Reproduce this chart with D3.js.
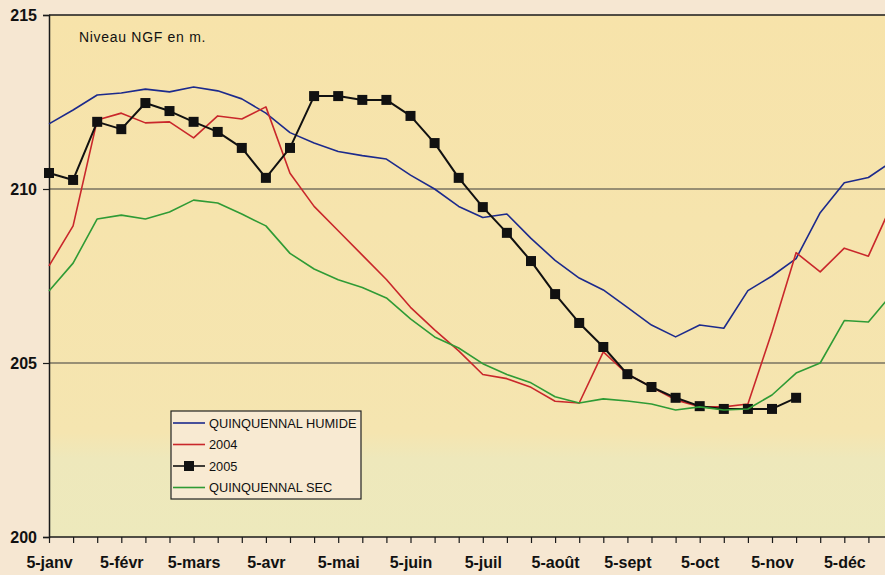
<!DOCTYPE html>
<html>
<head>
    <meta charset="utf-8">
    <title>Niveau NGF</title>
    <script src="https://d3js.org/d3.v7.min.js"></script>
    <style>
        body { margin: 0; background-color: #f6e7d2; }
        text { font-family: "Liberation Sans", Arial, sans-serif; }
    </style>
</head>
<body>
<svg width="885" height="575"></svg>
<script>
    // relevés tous les 10 jours (5, 15, 25 de chaque mois)
    var months = ["janv", "févr", "mars", "avr", "mai", "juin", "juil", "août", "sept", "oct", "nov", "déc"];
    var days = [5, 15, 25];
    var categories = [];
    months.forEach(function (m) {
        days.forEach(function (d) { categories.push(d + "-" + m); });
    });
    var tickLabels = months.map(function (m) { return "5-" + m; });
    var yTicks = [200, 205, 210, 215];

    var humide = [211.87, 212.27, 212.70, 212.76, 212.87, 212.79, 212.93, 212.82, 212.59, 212.18,
        211.62, 211.32, 211.08, 210.96, 210.86, 210.40, 210.00, 209.50, 209.18, 209.28,
        208.58, 207.95, 207.44, 207.10, 206.60, 206.09, 205.75, 206.09, 206.00, 207.08,
        207.50, 208.00, 209.32, 210.18, 210.33, 210.80];
    var y2004 = [207.79, 208.94, 211.98, 212.18, 211.90, 211.93, 211.47, 212.10, 212.01, 212.36,
        210.45, 209.50, 208.80, 208.10, 207.40, 206.60, 205.95, 205.35, 204.67, 204.55,
        204.30, 203.90, 203.85, 205.32, 204.68, 204.31, 203.94, 203.74, 203.74, 203.82,
        205.90, 208.17, 207.62, 208.30, 208.07, 209.60];
    var y2005 = [210.46, 210.26, 211.93, 211.72, 212.47, 212.24, 211.93, 211.64, 211.18, 210.32,
        211.18, 212.67, 212.67, 212.56, 212.56, 212.10, 211.32, 210.32, 209.48, 208.74,
        207.93, 206.98, 206.15, 205.46, 204.68, 204.31, 204.00, 203.76, 203.68, 203.68,
        203.68, 204.00];
    var sec = [207.07, 207.87, 209.14, 209.25, 209.14, 209.34, 209.68, 209.60, 209.28, 208.94,
        208.15, 207.70, 207.39, 207.17, 206.87, 206.27, 205.75, 205.43, 204.98, 204.67,
        204.43, 204.03, 203.85, 203.97, 203.91, 203.82, 203.65, 203.74, 203.65, 203.68,
        204.08, 204.71, 205.00, 206.22, 206.18, 207.00];

    var series = [
        {name: "QUINQUENNAL HUMIDE", values: humide, color: "#1c2a8c", marker: false},
        {name: "2004", values: y2004, color: "#c9272b", marker: false},
        {name: "2005", values: y2005, color: "#111111", marker: true},
        {name: "QUINQUENNAL SEC", values: sec, color: "#2f9b35", marker: false}
    ];

    var svg = d3.select("svg");
    var plotLeft = 49, plotTop = 15, plotBottom = 537, plotRight = 885, step = 24.1;

    var x = d3.scalePoint()
        .domain(categories)
        .range([plotLeft, plotLeft + step * (categories.length - 1)]);
    var y = d3.scaleLinear().domain([200, 215]).range([plotBottom, plotTop]);

    // fond du graphique
    var grad = svg.append("defs").append("linearGradient")
        .attr("id", "bg").attr("x1", 0).attr("y1", 0).attr("x2", 0).attr("y2", 1);
    grad.append("stop").attr("offset", "0").attr("stop-color", "#f7e3aa");
    grad.append("stop").attr("offset", "0.8").attr("stop-color", "#f5e5b0");
    grad.append("stop").attr("offset", "0.85").attr("stop-color", "#eee8bb");
    grad.append("stop").attr("offset", "1").attr("stop-color", "#ede9bc");

    svg.append("rect")
        .attr("x", plotLeft).attr("y", plotTop)
        .attr("width", plotRight - plotLeft).attr("height", plotBottom - plotTop)
        .attr("fill", "url(#bg)");

    // lignes horizontales
    svg.append("g")
        .selectAll("line")
        .data([205, 210])
        .enter().append("line")
        .attr("x1", plotLeft).attr("x2", plotRight)
        .attr("y1", function (d) { return y(d); })
        .attr("y2", function (d) { return y(d); })
        .attr("stroke", "#3a3a3a")
        .attr("stroke-width", 1.2);

    svg.append("line")
        .attr("x1", plotLeft).attr("x2", plotRight)
        .attr("y1", y(215)).attr("y2", y(215))
        .attr("stroke", "#1a1a1a").attr("stroke-width", 1.5);

    // axe Y
    var yAxis = svg.append("g")
        .attr("transform", "translate(" + plotLeft + ",0)")
        .call(d3.axisLeft(y).tickValues(yTicks).tickSize(6).tickFormat(d3.format("d")));
    yAxis.select(".domain").attr("stroke", "#1a1a1a").attr("stroke-width", 1.5);
    yAxis.selectAll(".tick line").attr("stroke", "#1a1a1a").attr("stroke-width", 1.2);
    yAxis.selectAll(".tick text")
        .attr("x", -12)
        .attr("font-size", 16)
        .attr("font-weight", "bold")
        .attr("fill", "#111")
        .style("font-family", "'Liberation Sans', Arial, sans-serif");

    // axe X
    var xAxis = svg.append("g")
        .attr("transform", "translate(0," + plotBottom + ")")
        .call(d3.axisBottom(x).tickSize(6).tickFormat(function (d) {
            return tickLabels.indexOf(d) >= 0 ? d : "";
        }));
    xAxis.select(".domain").remove();
    xAxis.append("line")
        .attr("x1", plotLeft).attr("x2", plotRight)
        .attr("stroke", "#1a1a1a").attr("stroke-width", 1.5);
    xAxis.selectAll(".tick line").attr("stroke", "#1a1a1a").attr("stroke-width", 1.2);
    xAxis.selectAll(".tick text")
        .attr("y", 20)
        .attr("font-size", 16)
        .attr("font-weight", "bold")
        .attr("fill", "#111")
        .style("font-family", "'Liberation Sans', Arial, sans-serif");

    // courbes
    var line = d3.line()
        .x(function (d, i) { return x(categories[i]); })
        .y(function (d) { return y(d); });

    series.forEach(function (s) {
        svg.append("path")
            .datum(s.values)
            .attr("fill", "none")
            .attr("stroke", s.color)
            .attr("stroke-width", s.marker ? 2 : 1.6)
            .attr("stroke-linejoin", "round")
            .attr("d", line);
        if (s.marker) {
            svg.append("g")
                .selectAll("rect")
                .data(s.values)
                .enter().append("rect")
                .attr("x", function (d, i) { return x(categories[i]) - 5; })
                .attr("y", function (d) { return y(d) - 5; })
                .attr("width", 10).attr("height", 10)
                .attr("fill", s.color);
        }
    });

    // titre
    svg.append("text")
        .attr("x", 79).attr("y", 42)
        .attr("font-size", 14)
        .attr("letter-spacing", 0.7)
        .attr("fill", "#111")
        .text("Niveau NGF en m.");

    // légende
    var legend = svg.append("g").attr("transform", "translate(171,411)");
    legend.append("rect")
        .attr("width", 190).attr("height", 88)
        .attr("fill", "#f8ead2")
        .attr("stroke", "#222").attr("stroke-width", 1.2);
    var row = legend.selectAll("g.row")
        .data(series)
        .enter().append("g")
        .attr("class", "row")
        .attr("transform", function (d, i) { return "translate(0," + (12 + i * 21.5) + ")"; });
    row.append("line")
        .attr("x1", 2).attr("x2", 34)
        .attr("stroke", function (d) { return d.color; })
        .attr("stroke-width", 1.6);
    row.filter(function (d) { return d.marker; })
        .append("rect")
        .attr("x", 13).attr("y", -5).attr("width", 10).attr("height", 10)
        .attr("fill", function (d) { return d.color; });
    row.append("text")
        .attr("x", 38).attr("dy", "0.36em")
        .attr("font-size", 12.8)
        .attr("fill", "#111")
        .text(function (d) { return d.name; });
</script>
</body>
</html>
